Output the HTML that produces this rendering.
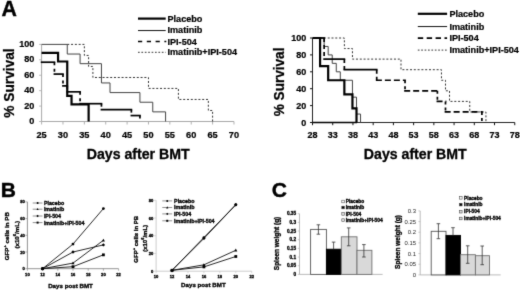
<!DOCTYPE html>
<html><head><meta charset="utf-8"><title>Figure</title>
<style>
html,body{margin:0;padding:0;background:#fff;}
body{width:520px;height:290px;overflow:hidden;font-family:"Liberation Sans",sans-serif;}
svg{display:block;font-family:"Liberation Sans",sans-serif;}
</style></head><body>
<svg width="520" height="290" viewBox="0 0 520 290">
<defs><filter id="soft" color-interpolation-filters="sRGB" x="0" y="0" width="520" height="290" filterUnits="userSpaceOnUse"><feConvolveMatrix order="3" kernelMatrix="0.015 0.08 0.015 0.08 0.62 0.08 0.015 0.08 0.015" edgeMode="duplicate" preserveAlpha="true"/></filter></defs>
<rect width="520" height="290" fill="#fff"/>
<g filter="url(#soft)">
<rect width="520" height="290" fill="#fff"/>
<line x1="41.60" y1="44.40" x2="41.60" y2="121.50" stroke="#a8a8a8" stroke-width="1" />
<line x1="41.60" y1="121.50" x2="233.98" y2="121.50" stroke="#a8a8a8" stroke-width="1" />
<line x1="39.10" y1="121.50" x2="41.60" y2="121.50" stroke="#a8a8a8" stroke-width="0.8" />
<text x="34.40" y="124.00" font-size="9.1" font-weight="bold" text-anchor="end" fill="#000"  stroke="#000" stroke-width="0.22">0</text>
<line x1="39.10" y1="106.08" x2="41.60" y2="106.08" stroke="#a8a8a8" stroke-width="0.8" />
<text x="34.40" y="108.58" font-size="9.1" font-weight="bold" text-anchor="end" fill="#000"  stroke="#000" stroke-width="0.22">20</text>
<line x1="39.10" y1="90.66" x2="41.60" y2="90.66" stroke="#a8a8a8" stroke-width="0.8" />
<text x="34.40" y="93.16" font-size="9.1" font-weight="bold" text-anchor="end" fill="#000"  stroke="#000" stroke-width="0.22">40</text>
<line x1="39.10" y1="75.24" x2="41.60" y2="75.24" stroke="#a8a8a8" stroke-width="0.8" />
<text x="34.40" y="77.74" font-size="9.1" font-weight="bold" text-anchor="end" fill="#000"  stroke="#000" stroke-width="0.22">60</text>
<line x1="39.10" y1="59.82" x2="41.60" y2="59.82" stroke="#a8a8a8" stroke-width="0.8" />
<text x="34.40" y="62.32" font-size="9.1" font-weight="bold" text-anchor="end" fill="#000"  stroke="#000" stroke-width="0.22">80</text>
<line x1="39.10" y1="44.40" x2="41.60" y2="44.40" stroke="#a8a8a8" stroke-width="0.8" />
<text x="34.40" y="46.90" font-size="9.1" font-weight="bold" text-anchor="end" fill="#000"  stroke="#000" stroke-width="0.22">100</text>
<line x1="41.60" y1="121.50" x2="41.60" y2="124.50" stroke="#a8a8a8" stroke-width="0.9" />
<text x="41.60" y="137.60" font-size="9.2" font-weight="bold" text-anchor="middle" fill="#000"  stroke="#000" stroke-width="0.22">25</text>
<line x1="62.98" y1="121.50" x2="62.98" y2="124.50" stroke="#a8a8a8" stroke-width="0.9" />
<text x="62.98" y="137.60" font-size="9.2" font-weight="bold" text-anchor="middle" fill="#000"  stroke="#000" stroke-width="0.22">30</text>
<line x1="84.35" y1="121.50" x2="84.35" y2="124.50" stroke="#a8a8a8" stroke-width="0.9" />
<text x="84.35" y="137.60" font-size="9.2" font-weight="bold" text-anchor="middle" fill="#000"  stroke="#000" stroke-width="0.22">35</text>
<line x1="105.72" y1="121.50" x2="105.72" y2="124.50" stroke="#a8a8a8" stroke-width="0.9" />
<text x="105.72" y="137.60" font-size="9.2" font-weight="bold" text-anchor="middle" fill="#000"  stroke="#000" stroke-width="0.22">40</text>
<line x1="127.10" y1="121.50" x2="127.10" y2="124.50" stroke="#a8a8a8" stroke-width="0.9" />
<text x="127.10" y="137.60" font-size="9.2" font-weight="bold" text-anchor="middle" fill="#000"  stroke="#000" stroke-width="0.22">45</text>
<line x1="148.48" y1="121.50" x2="148.48" y2="124.50" stroke="#a8a8a8" stroke-width="0.9" />
<text x="148.48" y="137.60" font-size="9.2" font-weight="bold" text-anchor="middle" fill="#000"  stroke="#000" stroke-width="0.22">50</text>
<line x1="169.85" y1="121.50" x2="169.85" y2="124.50" stroke="#a8a8a8" stroke-width="0.9" />
<text x="169.85" y="137.60" font-size="9.2" font-weight="bold" text-anchor="middle" fill="#000"  stroke="#000" stroke-width="0.22">55</text>
<line x1="191.22" y1="121.50" x2="191.22" y2="124.50" stroke="#a8a8a8" stroke-width="0.9" />
<text x="191.22" y="137.60" font-size="9.2" font-weight="bold" text-anchor="middle" fill="#000"  stroke="#000" stroke-width="0.22">60</text>
<line x1="212.60" y1="121.50" x2="212.60" y2="124.50" stroke="#a8a8a8" stroke-width="0.9" />
<text x="212.60" y="137.60" font-size="9.2" font-weight="bold" text-anchor="middle" fill="#000"  stroke="#000" stroke-width="0.22">65</text>
<line x1="233.98" y1="121.50" x2="233.98" y2="124.50" stroke="#a8a8a8" stroke-width="0.9" />
<text x="233.98" y="137.60" font-size="9.2" font-weight="bold" text-anchor="middle" fill="#000"  stroke="#000" stroke-width="0.22">70</text>
<path d="M41.60,44.40 H67.25 V54.04 H80.08 V63.67 H101.45 V82.95 H110.00 V92.59 H139.93 V102.22 H152.75 V111.86 H165.58 V121.50" fill="none" stroke="#444" stroke-width="1"/>
<path d="M67.25,44.40 H84.35 V55.43 H88.62 V66.45 H92.90 V77.48 H148.48 V88.42 H178.40 V99.45 H208.33 V110.47 H212.60 V121.50" fill="none" stroke="#333" stroke-width="1" stroke-dasharray="2 1.8"/>
<path d="M40.75,62.21 H55.28" fill="none" stroke="#000" stroke-width="1.7" />
<path d="M54.43,62.21 V74.08" fill="none" stroke="#000" stroke-width="1.7" stroke-dasharray="3 3.5"/>
<path d="M53.58,74.08 H63.83" fill="none" stroke="#000" stroke-width="1.7" />
<path d="M62.98,74.08 V85.88" fill="none" stroke="#000" stroke-width="1.7" stroke-dasharray="3 3.5"/>
<path d="M62.12,85.88 H68.10" fill="none" stroke="#000" stroke-width="1.7" />
<path d="M67.25,85.88 V91.82" fill="none" stroke="#000" stroke-width="1.7" stroke-dasharray="3 3.5"/>
<path d="M66.40,91.82 H80.92" fill="none" stroke="#000" stroke-width="1.7" />
<path d="M80.08,91.82 V103.69" fill="none" stroke="#000" stroke-width="1.7" stroke-dasharray="3 3.5"/>
<path d="M79.23,103.69 H102.30" fill="none" stroke="#000" stroke-width="1.7" />
<path d="M101.45,103.69 V109.63" fill="none" stroke="#000" stroke-width="1.7" stroke-dasharray="3 3.5"/>
<path d="M100.60,109.63 H132.22" fill="none" stroke="#000" stroke-width="1.7" />
<path d="M131.38,109.63 V115.56" fill="none" stroke="#000" stroke-width="1.7" stroke-dasharray="3 3.5"/>
<path d="M130.53,115.56 H140.78" fill="none" stroke="#000" stroke-width="1.7" />
<path d="M139.93,115.56 V118.80" fill="none" stroke="#000" stroke-width="1.7" stroke-dasharray="3 3.5"/>
<path d="M41.60,52.96 H58.06 V61.52 H67.25 V95.83 H71.53 V104.38 H88.62 V121.50" fill="none" stroke="#000" stroke-width="2.2"/>
<line x1="138.00" y1="18.60" x2="165.70" y2="18.60" stroke="#000" stroke-width="2.2" />
<line x1="138.00" y1="30.55" x2="165.70" y2="30.55" stroke="#111" stroke-width="1.0" />
<line x1="138.00" y1="41.50" x2="166.30" y2="41.50" stroke="#000" stroke-width="1.6" stroke-dasharray="4.2 4.6"/>
<line x1="138.00" y1="52.30" x2="165.70" y2="52.30" stroke="#333" stroke-width="1" stroke-dasharray="1.7 1.7"/>
<text x="167.50" y="21.80" font-size="9.1" font-weight="bold" text-anchor="start" fill="#000"  stroke="#000" stroke-width="0.22">Placebo</text>
<text x="167.50" y="33.20" font-size="9.1" font-weight="bold" text-anchor="start" fill="#000"  stroke="#000" stroke-width="0.22">Imatinib</text>
<text x="167.50" y="45.20" font-size="9.1" font-weight="bold" text-anchor="start" fill="#000"  stroke="#000" stroke-width="0.22">IPI-504</text>
<text x="167.50" y="55.20" font-size="9.1" font-weight="bold" text-anchor="start" fill="#000"  stroke="#000" stroke-width="0.22">Imatinib+IPI-504</text>
<text x="1.60" y="15.70" font-size="21.3" font-weight="bold" text-anchor="start" fill="#000" stroke="#000" stroke-width="0.4">A</text>
<text transform="translate(13.70,83.00) rotate(-90) scale(0.915,1)" font-size="15" font-weight="bold" text-anchor="middle" fill="#000" stroke="#000" stroke-width="0.25">% Survival</text>
<text x="138.20" y="158.50" font-size="14.15" font-weight="bold" text-anchor="middle" fill="#000" stroke="#000" stroke-width="0.3">Days after BMT</text>
<line x1="312.50" y1="38.00" x2="312.50" y2="122.50" stroke="#222" stroke-width="1" />
<line x1="312.50" y1="122.50" x2="514.75" y2="122.50" stroke="#222" stroke-width="1" />
<line x1="310.00" y1="122.50" x2="312.50" y2="122.50" stroke="#111" stroke-width="1" />
<text x="306.20" y="125.70" font-size="9" font-weight="bold" text-anchor="end" fill="#000"  stroke="#000" stroke-width="0.22">0</text>
<line x1="310.00" y1="105.60" x2="312.50" y2="105.60" stroke="#111" stroke-width="1" />
<text x="306.20" y="108.80" font-size="9" font-weight="bold" text-anchor="end" fill="#000"  stroke="#000" stroke-width="0.22">20</text>
<line x1="310.00" y1="88.70" x2="312.50" y2="88.70" stroke="#111" stroke-width="1" />
<text x="306.20" y="91.90" font-size="9" font-weight="bold" text-anchor="end" fill="#000"  stroke="#000" stroke-width="0.22">40</text>
<line x1="310.00" y1="71.80" x2="312.50" y2="71.80" stroke="#111" stroke-width="1" />
<text x="306.20" y="75.00" font-size="9" font-weight="bold" text-anchor="end" fill="#000"  stroke="#000" stroke-width="0.22">60</text>
<line x1="310.00" y1="54.90" x2="312.50" y2="54.90" stroke="#111" stroke-width="1" />
<text x="306.20" y="58.10" font-size="9" font-weight="bold" text-anchor="end" fill="#000"  stroke="#000" stroke-width="0.22">80</text>
<line x1="310.00" y1="38.00" x2="312.50" y2="38.00" stroke="#111" stroke-width="1" />
<text x="306.20" y="41.20" font-size="9" font-weight="bold" text-anchor="end" fill="#000"  stroke="#000" stroke-width="0.22">100</text>
<line x1="312.50" y1="122.50" x2="357.00" y2="122.50" stroke="#000" stroke-width="1.7" />
<line x1="312.50" y1="122.50" x2="312.50" y2="125.20" stroke="#111" stroke-width="1" />
<text x="312.50" y="138.20" font-size="9" font-weight="bold" text-anchor="middle" fill="#000"  stroke="#000" stroke-width="0.22">28</text>
<line x1="332.73" y1="122.50" x2="332.73" y2="125.20" stroke="#111" stroke-width="1" />
<text x="332.73" y="138.20" font-size="9" font-weight="bold" text-anchor="middle" fill="#000"  stroke="#000" stroke-width="0.22">33</text>
<line x1="352.95" y1="122.50" x2="352.95" y2="125.20" stroke="#111" stroke-width="1" />
<text x="352.95" y="138.20" font-size="9" font-weight="bold" text-anchor="middle" fill="#000"  stroke="#000" stroke-width="0.22">38</text>
<line x1="373.18" y1="122.50" x2="373.18" y2="125.20" stroke="#111" stroke-width="1" />
<text x="373.18" y="138.20" font-size="9" font-weight="bold" text-anchor="middle" fill="#000"  stroke="#000" stroke-width="0.22">43</text>
<line x1="393.40" y1="122.50" x2="393.40" y2="125.20" stroke="#111" stroke-width="1" />
<text x="393.40" y="138.20" font-size="9" font-weight="bold" text-anchor="middle" fill="#000"  stroke="#000" stroke-width="0.22">48</text>
<line x1="413.62" y1="122.50" x2="413.62" y2="125.20" stroke="#111" stroke-width="1" />
<text x="413.62" y="138.20" font-size="9" font-weight="bold" text-anchor="middle" fill="#000"  stroke="#000" stroke-width="0.22">53</text>
<line x1="433.85" y1="122.50" x2="433.85" y2="125.20" stroke="#111" stroke-width="1" />
<text x="433.85" y="138.20" font-size="9" font-weight="bold" text-anchor="middle" fill="#000"  stroke="#000" stroke-width="0.22">58</text>
<line x1="454.07" y1="122.50" x2="454.07" y2="125.20" stroke="#111" stroke-width="1" />
<text x="454.07" y="138.20" font-size="9" font-weight="bold" text-anchor="middle" fill="#000"  stroke="#000" stroke-width="0.22">63</text>
<line x1="474.30" y1="122.50" x2="474.30" y2="125.20" stroke="#111" stroke-width="1" />
<text x="474.30" y="138.20" font-size="9" font-weight="bold" text-anchor="middle" fill="#000"  stroke="#000" stroke-width="0.22">68</text>
<line x1="494.52" y1="122.50" x2="494.52" y2="125.20" stroke="#111" stroke-width="1" />
<text x="494.52" y="138.20" font-size="9" font-weight="bold" text-anchor="middle" fill="#000"  stroke="#000" stroke-width="0.22">73</text>
<line x1="514.75" y1="122.50" x2="514.75" y2="125.20" stroke="#111" stroke-width="1" />
<text x="514.75" y="138.20" font-size="9" font-weight="bold" text-anchor="middle" fill="#000"  stroke="#000" stroke-width="0.22">78</text>
<path d="M312.50,38.00 H324.13 V46.45 H328.18 V54.90 H332.23 V63.35 H336.27 V71.80 H340.31 V80.25 H352.45 V97.15 H356.50 V114.05 H360.54 V122.50" fill="none" stroke="#444" stroke-width="1"/>
<path d="M320.09,38.00 H344.36 V48.56 H352.45 V59.12 H400.99 V69.69 H441.44 V80.25 H445.49 V90.81 H449.53 V101.38 H469.75 V111.94 H485.94 V122.50" fill="none" stroke="#333" stroke-width="1" stroke-dasharray="2 1.8"/>
<path d="M319.24,38.00 H324.99" fill="none" stroke="#000" stroke-width="1.7" />
<path d="M324.13,38.00 V59.12" fill="none" stroke="#000" stroke-width="1.7" stroke-dasharray="4 3"/>
<path d="M323.28,59.12 H345.21" fill="none" stroke="#000" stroke-width="1.7" />
<path d="M344.36,59.12 V69.69" fill="none" stroke="#000" stroke-width="1.7" stroke-dasharray="4 3"/>
<path d="M343.51,69.69 H377.57" fill="none" stroke="#000" stroke-width="1.7" />
<path d="M376.72,69.69 V80.25" fill="none" stroke="#000" stroke-width="1.7" stroke-dasharray="4 3"/>
<path d="M375.87,80.25 H405.88" fill="none" stroke="#000" stroke-width="1.7" stroke-dasharray="6 3"/>
<path d="M405.03,80.25 V90.81" fill="none" stroke="#000" stroke-width="1.7" stroke-dasharray="3 3"/>
<path d="M404.18,90.81 H438.25" fill="none" stroke="#000" stroke-width="1.7" stroke-dasharray="6 3"/>
<path d="M437.39,90.81 V101.38" fill="none" stroke="#000" stroke-width="1.7" stroke-dasharray="3 3"/>
<path d="M436.54,101.38 H446.34" fill="none" stroke="#000" stroke-width="1.7" stroke-dasharray="6 3"/>
<path d="M445.49,101.38 V111.94" fill="none" stroke="#000" stroke-width="1.7" stroke-dasharray="3 3"/>
<path d="M444.63,111.94 H482.74" fill="none" stroke="#000" stroke-width="1.7" stroke-dasharray="6 3"/>
<path d="M481.89,111.94 V122.50" fill="none" stroke="#000" stroke-width="1.7" stroke-dasharray="3 3"/>
<path d="M312.50,38.00 H320.09 V66.14 H328.18 V80.25 H344.36 V94.36 H352.45 V108.39 H356.50 V122.50" fill="none" stroke="#000" stroke-width="2.2"/>
<line x1="417.80" y1="13.80" x2="447.10" y2="13.80" stroke="#000" stroke-width="2.2" />
<line x1="417.80" y1="26.55" x2="447.10" y2="26.55" stroke="#111" stroke-width="1.0" />
<line x1="417.80" y1="38.10" x2="447.10" y2="38.10" stroke="#000" stroke-width="1.7" stroke-dasharray="5.4 3.5"/>
<line x1="417.80" y1="50.10" x2="447.10" y2="50.10" stroke="#333" stroke-width="1" stroke-dasharray="1.7 1.7"/>
<text x="449.40" y="17.00" font-size="9.1" font-weight="bold" text-anchor="start" fill="#000"  stroke="#000" stroke-width="0.22">Placebo</text>
<text x="449.40" y="30.10" font-size="9.1" font-weight="bold" text-anchor="start" fill="#000"  stroke="#000" stroke-width="0.22">Imatinib</text>
<text x="449.40" y="41.30" font-size="9.1" font-weight="bold" text-anchor="start" fill="#000"  stroke="#000" stroke-width="0.22">IPI-504</text>
<text x="449.40" y="53.00" font-size="9.1" font-weight="bold" text-anchor="start" fill="#000"  stroke="#000" stroke-width="0.22">Imatinib+IPI-504</text>
<text transform="translate(284.40,81.90) rotate(-90) scale(0.905,1)" font-size="15" font-weight="bold" text-anchor="middle" fill="#000" stroke="#000" stroke-width="0.25">% Survival</text>
<text x="415.30" y="158.50" font-size="14.15" font-weight="bold" text-anchor="middle" fill="#000" stroke="#000" stroke-width="0.3">Days after BMT</text>
<text x="0.70" y="196.80" font-size="21" font-weight="bold" text-anchor="start" fill="#000" stroke="#000" stroke-width="0.4">B</text>
<line x1="27.40" y1="201.90" x2="27.40" y2="268.70" stroke="#777" stroke-width="0.8" />
<line x1="27.40" y1="268.70" x2="118.60" y2="268.70" stroke="#777" stroke-width="0.8" />
<line x1="25.40" y1="268.70" x2="27.40" y2="268.70" stroke="#777" stroke-width="0.6" />
<text x="24.70" y="270.20" font-size="4.1" font-weight="bold" text-anchor="end" fill="#000"  stroke="#000" stroke-width="0.32">0</text>
<line x1="25.40" y1="252.00" x2="27.40" y2="252.00" stroke="#777" stroke-width="0.6" />
<text x="24.70" y="253.50" font-size="4.1" font-weight="bold" text-anchor="end" fill="#000"  stroke="#000" stroke-width="0.32">20</text>
<line x1="25.40" y1="235.30" x2="27.40" y2="235.30" stroke="#777" stroke-width="0.6" />
<text x="24.70" y="236.80" font-size="4.1" font-weight="bold" text-anchor="end" fill="#000"  stroke="#000" stroke-width="0.32">40</text>
<line x1="25.40" y1="218.60" x2="27.40" y2="218.60" stroke="#777" stroke-width="0.6" />
<text x="24.70" y="220.10" font-size="4.1" font-weight="bold" text-anchor="end" fill="#000"  stroke="#000" stroke-width="0.32">60</text>
<line x1="25.40" y1="201.90" x2="27.40" y2="201.90" stroke="#777" stroke-width="0.6" />
<text x="24.70" y="203.40" font-size="4.1" font-weight="bold" text-anchor="end" fill="#000"  stroke="#000" stroke-width="0.32">80</text>
<line x1="27.40" y1="268.70" x2="27.40" y2="270.70" stroke="#777" stroke-width="0.6" />
<text x="27.40" y="275.50" font-size="4.1" font-weight="bold" text-anchor="middle" fill="#000"  stroke="#000" stroke-width="0.32">10</text>
<line x1="42.60" y1="268.70" x2="42.60" y2="270.70" stroke="#777" stroke-width="0.6" />
<text x="42.60" y="275.50" font-size="4.1" font-weight="bold" text-anchor="middle" fill="#000"  stroke="#000" stroke-width="0.32">12</text>
<line x1="57.80" y1="268.70" x2="57.80" y2="270.70" stroke="#777" stroke-width="0.6" />
<text x="57.80" y="275.50" font-size="4.1" font-weight="bold" text-anchor="middle" fill="#000"  stroke="#000" stroke-width="0.32">14</text>
<line x1="73.00" y1="268.70" x2="73.00" y2="270.70" stroke="#777" stroke-width="0.6" />
<text x="73.00" y="275.50" font-size="4.1" font-weight="bold" text-anchor="middle" fill="#000"  stroke="#000" stroke-width="0.32">16</text>
<line x1="88.20" y1="268.70" x2="88.20" y2="270.70" stroke="#777" stroke-width="0.6" />
<text x="88.20" y="275.50" font-size="4.1" font-weight="bold" text-anchor="middle" fill="#000"  stroke="#000" stroke-width="0.32">18</text>
<line x1="103.40" y1="268.70" x2="103.40" y2="270.70" stroke="#777" stroke-width="0.6" />
<text x="103.40" y="275.50" font-size="4.1" font-weight="bold" text-anchor="middle" fill="#000"  stroke="#000" stroke-width="0.32">20</text>
<line x1="118.60" y1="268.70" x2="118.60" y2="270.70" stroke="#777" stroke-width="0.6" />
<text x="118.60" y="275.50" font-size="4.1" font-weight="bold" text-anchor="middle" fill="#000"  stroke="#000" stroke-width="0.32">22</text>
<path d="M42.60,268.70 L73.00,244.07 L103.40,208.58" fill="none" stroke="#111" stroke-width="0.9"/>
<circle cx="42.60" cy="268.70" r="1.40" fill="#000"/>
<circle cx="73.00" cy="244.07" r="1.40" fill="#000"/>
<circle cx="103.40" cy="208.58" r="1.40" fill="#000"/>
<path d="M42.60,268.70 L73.00,252.00 L103.40,244.90" fill="none" stroke="#111" stroke-width="0.9"/>
<path d="M42.60,267.02 L44.28,268.70 L42.60,270.38 L40.92,268.70 Z" fill="#000"/>
<path d="M73.00,250.32 L74.68,252.00 L73.00,253.68 L71.32,252.00 Z" fill="#000"/>
<path d="M103.40,243.22 L105.08,244.90 L103.40,246.58 L101.72,244.90 Z" fill="#000"/>
<path d="M42.60,268.70 L73.00,263.11 L103.40,240.31" fill="none" stroke="#111" stroke-width="0.9"/>
<path d="M42.60,267.02 L44.14,269.96 L41.06,269.96 Z" fill="#000"/>
<path d="M73.00,261.43 L74.54,264.37 L71.46,264.37 Z" fill="#000"/>
<path d="M103.40,238.63 L104.94,241.57 L101.86,241.57 Z" fill="#000"/>
<path d="M42.60,268.70 L73.00,266.70 L103.40,254.84" fill="none" stroke="#111" stroke-width="0.9"/>
<rect x="41.20" y="267.30" width="2.80" height="2.80" fill="#000"/>
<rect x="71.60" y="265.30" width="2.80" height="2.80" fill="#000"/>
<rect x="102.00" y="253.44" width="2.80" height="2.80" fill="#000"/>
<line x1="32.70" y1="203.00" x2="42.50" y2="203.00" stroke="#333" stroke-width="0.55" />
<circle cx="37.60" cy="203.00" r="1.00" fill="#000"/>
<text x="43.90" y="204.90" font-size="5.3" font-weight="bold" text-anchor="start" fill="#000"  stroke="#000" stroke-width="0.32">Placebo</text>
<line x1="32.70" y1="209.20" x2="42.50" y2="209.20" stroke="#333" stroke-width="0.55" />
<path d="M37.60,208.00 L38.70,210.10 L36.50,210.10 Z" fill="#000"/>
<text x="43.90" y="211.10" font-size="5.3" font-weight="bold" text-anchor="start" fill="#000"  stroke="#000" stroke-width="0.32">Imatinib</text>
<line x1="32.70" y1="216.00" x2="42.50" y2="216.00" stroke="#333" stroke-width="0.55" />
<path d="M37.60,214.80 L38.80,216.00 L37.60,217.20 L36.40,216.00 Z" fill="#000"/>
<text x="43.90" y="217.90" font-size="5.3" font-weight="bold" text-anchor="start" fill="#000"  stroke="#000" stroke-width="0.32">IPI-504</text>
<line x1="32.70" y1="222.60" x2="42.50" y2="222.60" stroke="#333" stroke-width="0.55" />
<rect x="36.60" y="221.60" width="2.00" height="2.00" fill="#000"/>
<text x="43.90" y="224.50" font-size="5.3" font-weight="bold" text-anchor="start" fill="#000"  stroke="#000" stroke-width="0.32">Imatinib+IPI-504</text>
<text transform="translate(8.80,236.20) rotate(-90)" font-size="6.2" font-weight="bold" text-anchor="middle" stroke="#000" stroke-width="0.32">GFP<tspan dy="-3" font-size="4">+</tspan><tspan dy="3"> cells in PB</tspan></text>
<text transform="translate(18.80,234.75) rotate(-90)" font-size="6.2" font-weight="bold" text-anchor="middle" stroke="#000" stroke-width="0.32">(x10<tspan dy="-3" font-size="4">6</tspan><tspan dy="3">/mL)</tspan></text>
<text x="70.50" y="287.50" font-size="6.2" font-weight="bold" text-anchor="middle" fill="#000"  stroke="#000" stroke-width="0.32">Days post BMT</text>
<line x1="156.10" y1="200.32" x2="156.10" y2="271.20" stroke="#c0c0c0" stroke-width="0.8" />
<line x1="156.10" y1="271.20" x2="251.74" y2="271.20" stroke="#c0c0c0" stroke-width="0.8" />
<line x1="154.10" y1="271.20" x2="156.10" y2="271.20" stroke="#c0c0c0" stroke-width="0.6" />
<text x="153.40" y="272.70" font-size="4.1" font-weight="bold" text-anchor="end" fill="#000"  stroke="#000" stroke-width="0.32">0</text>
<line x1="154.10" y1="253.48" x2="156.10" y2="253.48" stroke="#c0c0c0" stroke-width="0.6" />
<text x="153.40" y="254.98" font-size="4.1" font-weight="bold" text-anchor="end" fill="#000"  stroke="#000" stroke-width="0.32">20</text>
<line x1="154.10" y1="235.76" x2="156.10" y2="235.76" stroke="#c0c0c0" stroke-width="0.6" />
<text x="153.40" y="237.26" font-size="4.1" font-weight="bold" text-anchor="end" fill="#000"  stroke="#000" stroke-width="0.32">40</text>
<line x1="154.10" y1="218.04" x2="156.10" y2="218.04" stroke="#c0c0c0" stroke-width="0.6" />
<text x="153.40" y="219.54" font-size="4.1" font-weight="bold" text-anchor="end" fill="#000"  stroke="#000" stroke-width="0.32">60</text>
<line x1="154.10" y1="200.32" x2="156.10" y2="200.32" stroke="#c0c0c0" stroke-width="0.6" />
<text x="153.40" y="201.82" font-size="4.1" font-weight="bold" text-anchor="end" fill="#000"  stroke="#000" stroke-width="0.32">80</text>
<line x1="156.10" y1="271.20" x2="156.10" y2="273.20" stroke="#c0c0c0" stroke-width="0.6" />
<text x="156.10" y="278.10" font-size="4.1" font-weight="bold" text-anchor="middle" fill="#000"  stroke="#000" stroke-width="0.32">10</text>
<line x1="172.04" y1="271.20" x2="172.04" y2="273.20" stroke="#c0c0c0" stroke-width="0.6" />
<text x="172.04" y="278.10" font-size="4.1" font-weight="bold" text-anchor="middle" fill="#000"  stroke="#000" stroke-width="0.32">12</text>
<line x1="187.98" y1="271.20" x2="187.98" y2="273.20" stroke="#c0c0c0" stroke-width="0.6" />
<text x="187.98" y="278.10" font-size="4.1" font-weight="bold" text-anchor="middle" fill="#000"  stroke="#000" stroke-width="0.32">14</text>
<line x1="203.92" y1="271.20" x2="203.92" y2="273.20" stroke="#c0c0c0" stroke-width="0.6" />
<text x="203.92" y="278.10" font-size="4.1" font-weight="bold" text-anchor="middle" fill="#000"  stroke="#000" stroke-width="0.32">16</text>
<line x1="219.86" y1="271.20" x2="219.86" y2="273.20" stroke="#c0c0c0" stroke-width="0.6" />
<text x="219.86" y="278.10" font-size="4.1" font-weight="bold" text-anchor="middle" fill="#000"  stroke="#000" stroke-width="0.32">18</text>
<line x1="235.80" y1="271.20" x2="235.80" y2="273.20" stroke="#c0c0c0" stroke-width="0.6" />
<text x="235.80" y="278.10" font-size="4.1" font-weight="bold" text-anchor="middle" fill="#000"  stroke="#000" stroke-width="0.32">20</text>
<line x1="251.74" y1="271.20" x2="251.74" y2="273.20" stroke="#c0c0c0" stroke-width="0.6" />
<text x="251.74" y="278.10" font-size="4.1" font-weight="bold" text-anchor="middle" fill="#000"  stroke="#000" stroke-width="0.32">22</text>
<path d="M172.04,270.31 L203.92,237.53 L235.80,204.75" fill="none" stroke="#111" stroke-width="0.9"/>
<circle cx="172.04" cy="270.31" r="1.40" fill="#000"/>
<circle cx="203.92" cy="237.53" r="1.40" fill="#000"/>
<circle cx="235.80" cy="204.75" r="1.40" fill="#000"/>
<path d="M172.04,270.31 L203.92,238.42 L235.80,204.75" fill="none" stroke="#111" stroke-width="0.9"/>
<path d="M172.04,268.63 L173.72,270.31 L172.04,271.99 L170.36,270.31 Z" fill="#000"/>
<path d="M203.92,236.74 L205.60,238.42 L203.92,240.10 L202.24,238.42 Z" fill="#000"/>
<path d="M235.80,203.07 L237.48,204.75 L235.80,206.43 L234.12,204.75 Z" fill="#000"/>
<path d="M172.04,270.31 L203.92,264.82 L235.80,250.29" fill="none" stroke="#111" stroke-width="0.9"/>
<path d="M172.04,268.63 L173.58,271.57 L170.50,271.57 Z" fill="#000"/>
<path d="M203.92,263.14 L205.46,266.08 L202.38,266.08 Z" fill="#000"/>
<path d="M235.80,248.61 L237.34,251.55 L234.26,251.55 Z" fill="#000"/>
<path d="M172.04,270.31 L203.92,266.90 L235.80,256.49" fill="none" stroke="#111" stroke-width="0.9"/>
<rect x="170.64" y="268.91" width="2.80" height="2.80" fill="#000"/>
<rect x="202.52" y="265.50" width="2.80" height="2.80" fill="#000"/>
<rect x="234.40" y="255.09" width="2.80" height="2.80" fill="#000"/>
<line x1="162.30" y1="200.90" x2="172.20" y2="200.90" stroke="#333" stroke-width="0.55" />
<circle cx="167.25" cy="200.90" r="1.00" fill="#000"/>
<text x="174.10" y="202.80" font-size="5.3" font-weight="bold" text-anchor="start" fill="#000"  stroke="#000" stroke-width="0.32">Placebo</text>
<line x1="162.30" y1="207.50" x2="172.20" y2="207.50" stroke="#333" stroke-width="0.55" />
<path d="M167.25,206.30 L168.35,208.40 L166.15,208.40 Z" fill="#000"/>
<text x="174.10" y="209.40" font-size="5.3" font-weight="bold" text-anchor="start" fill="#000"  stroke="#000" stroke-width="0.32">Imatinib</text>
<line x1="162.30" y1="213.90" x2="172.20" y2="213.90" stroke="#333" stroke-width="0.55" />
<path d="M167.25,212.70 L168.45,213.90 L167.25,215.10 L166.05,213.90 Z" fill="#000"/>
<text x="174.10" y="215.80" font-size="5.3" font-weight="bold" text-anchor="start" fill="#000"  stroke="#000" stroke-width="0.32">IPI-504</text>
<line x1="162.30" y1="220.80" x2="172.20" y2="220.80" stroke="#333" stroke-width="0.55" />
<rect x="166.25" y="219.80" width="2.00" height="2.00" fill="#000"/>
<text x="174.10" y="222.70" font-size="5.3" font-weight="bold" text-anchor="start" fill="#000"  stroke="#000" stroke-width="0.32">Imatinib+IPI-504</text>
<text transform="translate(138.40,239.30) rotate(-90)" font-size="6.0" font-weight="bold" text-anchor="middle" stroke="#000" stroke-width="0.32">GFP<tspan dy="-3" font-size="4">+</tspan><tspan dy="3"> cells in PB</tspan></text>
<text transform="translate(146.70,238.40) rotate(-90)" font-size="6.0" font-weight="bold" text-anchor="middle" stroke="#000" stroke-width="0.32">(x10<tspan dy="-3" font-size="4">6</tspan><tspan dy="3">/mL)</tspan></text>
<text x="203.40" y="287.00" font-size="6.2" font-weight="bold" text-anchor="middle" fill="#000"  stroke="#000" stroke-width="0.32">Days post BMT</text>
<text x="271.70" y="196.60" font-size="21" font-weight="bold" text-anchor="start" fill="#000" stroke="#000" stroke-width="0.4">C</text>
<line x1="299.50" y1="213.70" x2="299.50" y2="274.40" stroke="#aaa" stroke-width="0.8" />
<line x1="299.50" y1="274.40" x2="382.60" y2="274.40" stroke="#aaa" stroke-width="0.8" />
<line x1="297.70" y1="274.40" x2="299.50" y2="274.40" stroke="#aaa" stroke-width="0.6" />
<text x="296.00" y="276.09" font-size="4.7" font-weight="bold" text-anchor="end" fill="#000"  stroke="#000" stroke-width="0.32">0</text>
<line x1="297.70" y1="265.73" x2="299.50" y2="265.73" stroke="#aaa" stroke-width="0.6" />
<text x="296.00" y="267.42" font-size="4.7" font-weight="bold" text-anchor="end" fill="#000"  stroke="#000" stroke-width="0.32">0.05</text>
<line x1="297.70" y1="257.06" x2="299.50" y2="257.06" stroke="#aaa" stroke-width="0.6" />
<text x="296.00" y="258.75" font-size="4.7" font-weight="bold" text-anchor="end" fill="#000"  stroke="#000" stroke-width="0.32">0.1</text>
<line x1="297.70" y1="248.39" x2="299.50" y2="248.39" stroke="#aaa" stroke-width="0.6" />
<text x="296.00" y="250.08" font-size="4.7" font-weight="bold" text-anchor="end" fill="#000"  stroke="#000" stroke-width="0.32">0.15</text>
<line x1="297.70" y1="239.71" x2="299.50" y2="239.71" stroke="#aaa" stroke-width="0.6" />
<text x="296.00" y="241.41" font-size="4.7" font-weight="bold" text-anchor="end" fill="#000"  stroke="#000" stroke-width="0.32">0.2</text>
<line x1="297.70" y1="231.04" x2="299.50" y2="231.04" stroke="#aaa" stroke-width="0.6" />
<text x="296.00" y="232.73" font-size="4.7" font-weight="bold" text-anchor="end" fill="#000"  stroke="#000" stroke-width="0.32">0.25</text>
<line x1="297.70" y1="222.37" x2="299.50" y2="222.37" stroke="#aaa" stroke-width="0.6" />
<text x="296.00" y="224.06" font-size="4.7" font-weight="bold" text-anchor="end" fill="#000"  stroke="#000" stroke-width="0.32">0.3</text>
<line x1="297.70" y1="213.70" x2="299.50" y2="213.70" stroke="#aaa" stroke-width="0.6" />
<text x="296.00" y="215.39" font-size="4.7" font-weight="bold" text-anchor="end" fill="#000"  stroke="#000" stroke-width="0.32">0.35</text>
<rect x="310.60" y="229.40" width="15.80" height="45.00" fill="#fff" stroke="#555" stroke-width="0.9"/>
<line x1="318.40" y1="224.80" x2="318.40" y2="234.20" stroke="#333" stroke-width="0.8" />
<line x1="316.60" y1="224.80" x2="320.20" y2="224.80" stroke="#333" stroke-width="0.8" />
<line x1="316.60" y1="234.20" x2="320.20" y2="234.20" stroke="#333" stroke-width="0.8" />
<rect x="326.40" y="249.20" width="14.80" height="25.20" fill="#000" stroke="#000" stroke-width="0.9"/>
<line x1="333.60" y1="242.10" x2="333.60" y2="249.20" stroke="#333" stroke-width="0.8" />
<line x1="331.80" y1="242.10" x2="335.40" y2="242.10" stroke="#333" stroke-width="0.8" />
<rect x="341.30" y="236.80" width="15.70" height="37.60" fill="#d9d9d9" stroke="#707070" stroke-width="0.9"/>
<line x1="348.70" y1="227.90" x2="348.70" y2="245.80" stroke="#333" stroke-width="0.8" />
<line x1="346.90" y1="227.90" x2="350.50" y2="227.90" stroke="#333" stroke-width="0.8" />
<line x1="346.90" y1="245.80" x2="350.50" y2="245.80" stroke="#333" stroke-width="0.8" />
<rect x="357.00" y="250.30" width="14.90" height="24.10" fill="#d9d9d9" stroke="#707070" stroke-width="0.9"/>
<line x1="363.90" y1="244.60" x2="363.90" y2="257.00" stroke="#333" stroke-width="0.8" />
<line x1="362.10" y1="244.60" x2="365.70" y2="244.60" stroke="#333" stroke-width="0.8" />
<line x1="362.10" y1="257.00" x2="365.70" y2="257.00" stroke="#333" stroke-width="0.8" />
<rect x="341.80" y="200.20" width="2.6" height="2.6" fill="#fff" stroke="#444" stroke-width="0.55"/>
<text x="345.70" y="203.20" font-size="4.85" font-weight="bold" text-anchor="start" fill="#000"  stroke="#000" stroke-width="0.32">Placebo</text>
<rect x="341.80" y="206.20" width="2.6" height="2.6" fill="#000" stroke="#444" stroke-width="0.55"/>
<text x="345.70" y="209.20" font-size="4.85" font-weight="bold" text-anchor="start" fill="#000"  stroke="#000" stroke-width="0.32">Imatinib</text>
<rect x="341.80" y="212.60" width="2.6" height="2.6" fill="#ddd" stroke="#444" stroke-width="0.55"/>
<text x="345.70" y="215.60" font-size="4.85" font-weight="bold" text-anchor="start" fill="#000"  stroke="#000" stroke-width="0.32">IPI-504</text>
<rect x="341.80" y="218.80" width="2.6" height="2.6" fill="#ddd" stroke="#444" stroke-width="0.55"/>
<text x="345.70" y="221.80" font-size="4.85" font-weight="bold" text-anchor="start" fill="#000"  stroke="#000" stroke-width="0.32">Imatinib+IPI-504</text>
<text transform="translate(278.50,243.45) rotate(-90) scale(1,1)" font-size="6.46" font-weight="bold" text-anchor="middle" fill="#000" stroke="#000" stroke-width="0.32">Spleen weight (g)</text>
<line x1="420.20" y1="210.90" x2="420.20" y2="274.90" stroke="#aaa" stroke-width="0.8" />
<line x1="420.20" y1="274.90" x2="500.70" y2="274.90" stroke="#aaa" stroke-width="0.8" />
<line x1="418.40" y1="274.90" x2="420.20" y2="274.90" stroke="#aaa" stroke-width="0.6" />
<text x="416.00" y="277.02" font-size="5.9" font-weight="normal" text-anchor="end" fill="#222" >0</text>
<line x1="418.40" y1="264.23" x2="420.20" y2="264.23" stroke="#aaa" stroke-width="0.6" />
<text x="416.00" y="266.36" font-size="5.9" font-weight="normal" text-anchor="end" fill="#222" >0.05</text>
<line x1="418.40" y1="253.57" x2="420.20" y2="253.57" stroke="#aaa" stroke-width="0.6" />
<text x="416.00" y="255.69" font-size="5.9" font-weight="normal" text-anchor="end" fill="#222" >0.1</text>
<line x1="418.40" y1="242.90" x2="420.20" y2="242.90" stroke="#aaa" stroke-width="0.6" />
<text x="416.00" y="245.02" font-size="5.9" font-weight="normal" text-anchor="end" fill="#222" >0.15</text>
<line x1="418.40" y1="232.23" x2="420.20" y2="232.23" stroke="#aaa" stroke-width="0.6" />
<text x="416.00" y="234.36" font-size="5.9" font-weight="normal" text-anchor="end" fill="#222" >0.2</text>
<line x1="418.40" y1="221.57" x2="420.20" y2="221.57" stroke="#aaa" stroke-width="0.6" />
<text x="416.00" y="223.69" font-size="5.9" font-weight="normal" text-anchor="end" fill="#222" >0.25</text>
<line x1="418.40" y1="210.90" x2="420.20" y2="210.90" stroke="#aaa" stroke-width="0.6" />
<text x="416.00" y="213.02" font-size="5.9" font-weight="normal" text-anchor="end" fill="#222" >0.3</text>
<rect x="431.20" y="231.30" width="14.80" height="43.60" fill="#fff" stroke="#555" stroke-width="0.9"/>
<line x1="438.40" y1="223.70" x2="438.40" y2="238.70" stroke="#333" stroke-width="0.8" />
<line x1="436.60" y1="223.70" x2="440.20" y2="223.70" stroke="#333" stroke-width="0.8" />
<line x1="436.60" y1="238.70" x2="440.20" y2="238.70" stroke="#333" stroke-width="0.8" />
<rect x="446.00" y="235.40" width="14.50" height="39.50" fill="#000" stroke="#000" stroke-width="0.9"/>
<line x1="453.00" y1="227.70" x2="453.00" y2="235.40" stroke="#333" stroke-width="0.8" />
<line x1="451.20" y1="227.70" x2="454.80" y2="227.70" stroke="#333" stroke-width="0.8" />
<rect x="460.50" y="254.70" width="14.90" height="20.20" fill="#d9d9d9" stroke="#707070" stroke-width="0.9"/>
<line x1="467.70" y1="245.80" x2="467.70" y2="263.30" stroke="#333" stroke-width="0.8" />
<line x1="465.90" y1="245.80" x2="469.50" y2="245.80" stroke="#333" stroke-width="0.8" />
<line x1="465.90" y1="263.30" x2="469.50" y2="263.30" stroke="#333" stroke-width="0.8" />
<rect x="475.40" y="255.70" width="14.10" height="19.20" fill="#d9d9d9" stroke="#707070" stroke-width="0.9"/>
<line x1="482.20" y1="246.00" x2="482.20" y2="264.70" stroke="#333" stroke-width="0.8" />
<line x1="480.40" y1="246.00" x2="484.00" y2="246.00" stroke="#333" stroke-width="0.8" />
<line x1="480.40" y1="264.70" x2="484.00" y2="264.70" stroke="#333" stroke-width="0.8" />
<rect x="459.50" y="196.50" width="2.6" height="2.6" fill="#fff" stroke="#444" stroke-width="0.55"/>
<text x="464.10" y="199.50" font-size="4.8" font-weight="bold" text-anchor="start" fill="#000"  stroke="#000" stroke-width="0.32">Placebo</text>
<rect x="459.50" y="203.30" width="2.6" height="2.6" fill="#000" stroke="#444" stroke-width="0.55"/>
<text x="464.10" y="206.30" font-size="4.8" font-weight="bold" text-anchor="start" fill="#000"  stroke="#000" stroke-width="0.32">Imatinib</text>
<rect x="459.50" y="210.40" width="2.6" height="2.6" fill="#ddd" stroke="#444" stroke-width="0.55"/>
<text x="464.10" y="213.40" font-size="4.8" font-weight="bold" text-anchor="start" fill="#000"  stroke="#000" stroke-width="0.32">IPI-504</text>
<rect x="459.50" y="217.20" width="2.6" height="2.6" fill="#ddd" stroke="#444" stroke-width="0.55"/>
<text x="464.10" y="220.20" font-size="4.8" font-weight="bold" text-anchor="start" fill="#000"  stroke="#000" stroke-width="0.32">Imatinib+IPI-504</text>
<text transform="translate(400.10,241.95) rotate(-90) scale(1,1)" font-size="6.53" font-weight="bold" text-anchor="middle" fill="#000" stroke="#000" stroke-width="0.32">Spleen weight (g)</text>
</g>
</svg>
</body></html>
